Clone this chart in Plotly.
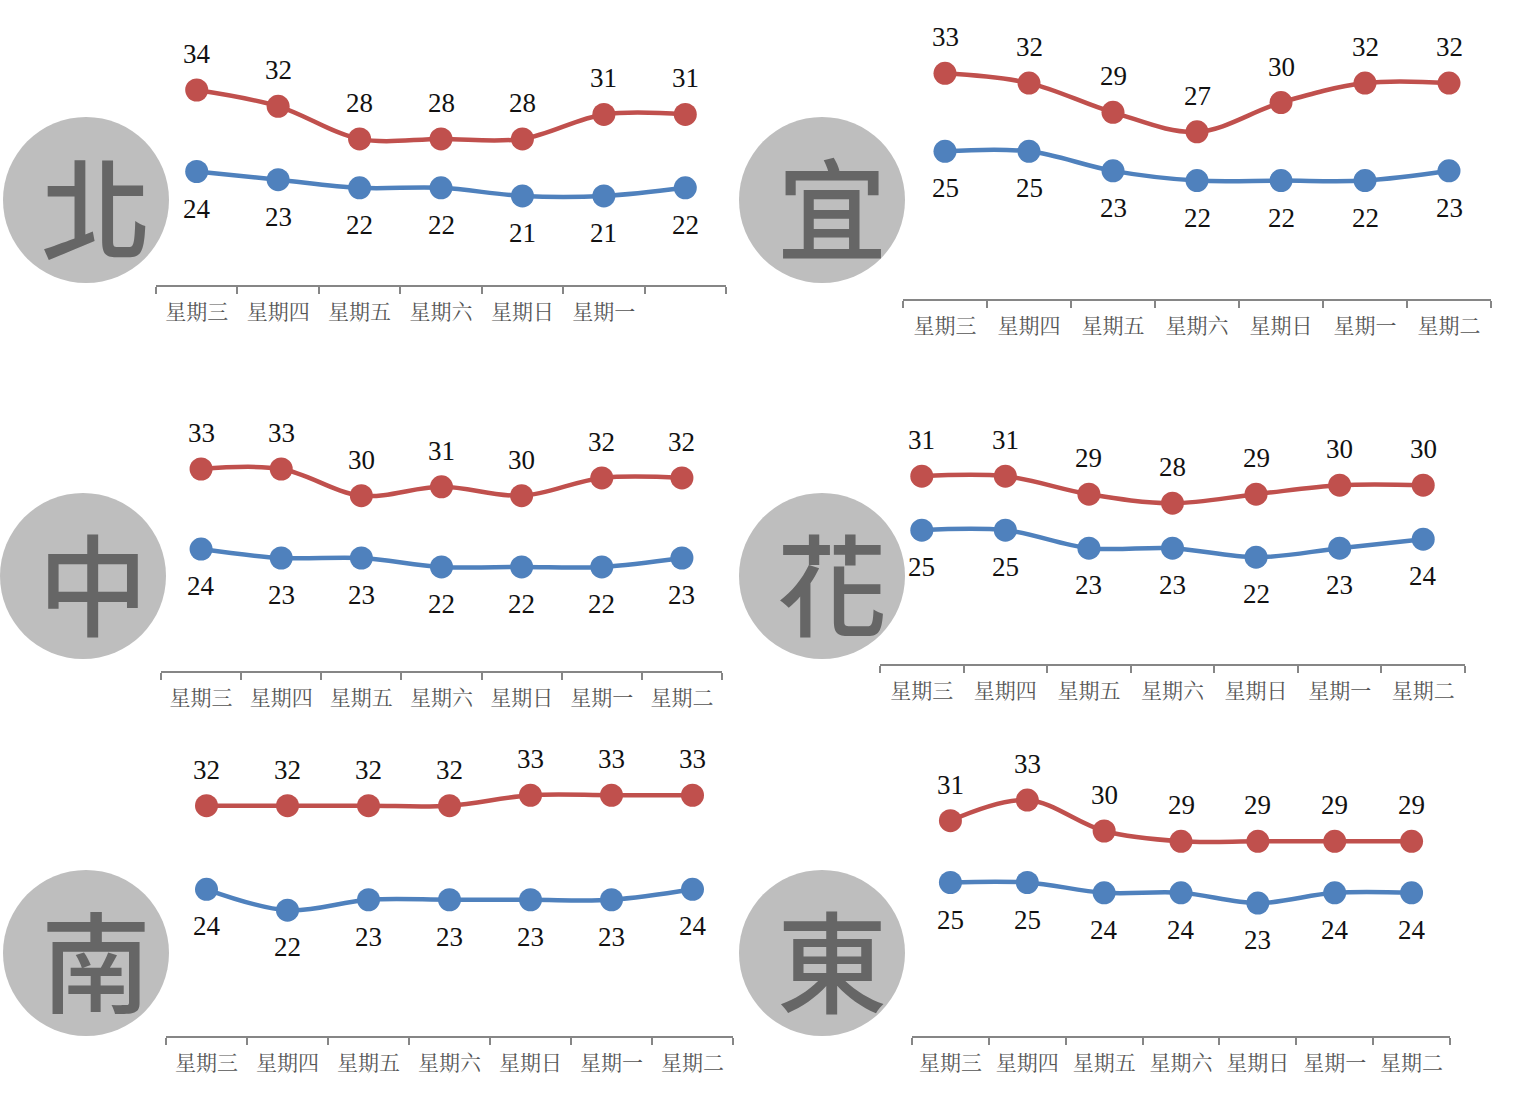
import plotly.graph_objects as go

W = 1522
H = 1106

days = ["星期三", "星期四", "星期五", "星期六", "星期日", "星期一", "星期二"]
days_north = ["星期三", "星期四", "星期五", "星期六", "星期日", "星期一", "\u3000"]

names = ["北", "宜", "中", "花", "南", "東"]
high = [
    [34, 32, 28, 28, 28, 31, 31],
    [33, 32, 29, 27, 30, 32, 32],
    [33, 33, 30, 31, 30, 32, 32],
    [31, 31, 29, 28, 29, 30, 30],
    [32, 32, 32, 32, 33, 33, 33],
    [31, 33, 30, 29, 29, 29, 29],
]
low = [
    [24, 23, 22, 22, 21, 21, 22],
    [25, 25, 23, 22, 22, 22, 23],
    [24, 23, 23, 22, 22, 22, 23],
    [25, 25, 23, 23, 22, 23, 24],
    [24, 22, 23, 23, 23, 23, 24],
    [25, 25, 24, 24, 23, 24, 24],
]

# pixel layout of each panel: x0, x1, axis y, y of 30 degrees, px per degree, circle x, circle y
panels = [
    (156, 726, 285, 122.6, 8.15, 86, 200),
    (903, 1491, 299, 102.6, 9.75, 822, 200),
    (161, 722, 671, 495.7, 8.9, 83, 576),
    (880, 1465, 664, 485.2, 9.0, 822, 576),
    (166, 733, 1036, 826.6, 10.45, 86, 953),
    (912, 1450, 1036, 831, 10.3, 822, 953),
]

RED = "#C0504D"
BLUE = "#4F81BD"
GREY = "#868686"

fig = go.Figure()
shapes = []
notes = []

for i, (x0, x1, ax_y, y30, scale, cx, cy) in enumerate(panels):
    n = i + 1
    cats = days_north if i == 0 else days
    top = max(ax_y - 285, 0)
    fig.update_layout({
        f"xaxis{n}": dict(
            domain=[x0 / W, x1 / W], anchor=f"y{n}", type="category",
            categoryorder="array", categoryarray=cats, range=[-0.5, 6.5],
            showgrid=False, zeroline=False, showline=True, linecolor=GREY, linewidth=2,
            ticks="outside", tickson="boundaries", ticklen=7, tickwidth=2, tickcolor=GREY,
            ticklabelstandoff=7,
            tickfont=dict(family="Noto Serif CJK TC, Noto Sans CJK TC", size=21, color="#555555"),
        ),
        f"yaxis{n}": dict(
            domain=[1 - ax_y / H, 1 - top / H], anchor=f"x{n}", visible=False,
            range=[30 - (ax_y - y30) / scale, 30 + (y30 - top) / scale],
        ),
    })

    for vals, color, shift in [(high[i], RED, 36), (low[i], BLUE, -37)]:
        fig.add_trace(go.Scatter(
            x=cats, y=vals, xaxis=f"x{n}", yaxis=f"y{n}", mode="lines+markers",
            line=dict(color=color, width=4.5, shape="spline", smoothing=1),
            marker=dict(color=color, size=23), cliponaxis=False, showlegend=False,
        ))
        for c, v in zip(cats, vals):
            notes.append(dict(
                x=c, y=v, xref=f"x{n}", yref=f"y{n}", text=str(v), showarrow=False,
                yshift=shift, yanchor="middle",
                font=dict(family="Liberation Serif", size=27, color="#111111"),
            ))

    shapes.append(dict(
        type="circle", xref="paper", yref="paper", layer="below",
        x0=(cx - 83) / W, x1=(cx + 83) / W, y0=1 - (cy + 83) / H, y1=1 - (cy - 83) / H,
        fillcolor="#BEBEBE", line=dict(width=0),
    ))
    notes.append(dict(
        x=(cx + 10) / W, y=1 - (cy + 4) / H, xref="paper", yref="paper", text=names[i],
        showarrow=False, xanchor="center", yanchor="middle",
        font=dict(family="Noto Sans CJK TC", size=110, color="#666666", weight=500),
    ))

fig.update_layout(
    width=W, height=H, margin=dict(l=0, r=0, t=0, b=0),
    paper_bgcolor="white", plot_bgcolor="rgba(0,0,0,0)",
    shapes=shapes, annotations=notes,
)

fig.write_html("out.html", config=dict(displayModeBar=False), post_script="document.body.style.margin='0';")
